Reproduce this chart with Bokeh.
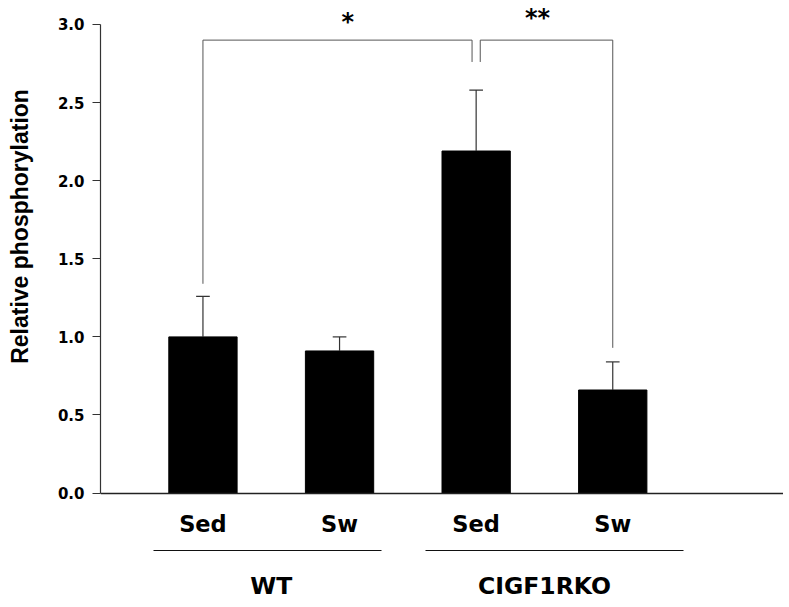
import math
from bokeh.plotting import figure
from bokeh.layouts import row
from bokeh.models import Range1d, LinearAxis, FixedTicker
from bokeh.core.properties import value
from bokeh.embed import file_html
from bokeh.resources import INLINE

# ---- data ----
positions = [1, 2, 3, 4]
conditions = ["Sed", "Sw", "Sed", "Sw"]
means = [1.00, 0.91, 2.19, 0.66]
sem = [0.26, 0.09, 0.39, 0.18]

groups = ["WT", "CIGF1RKO"]
group_centers = [1.5, 3.5]
group_starts = [0.64, 2.63]
group_ends = [2.31, 4.52]
group_line_level = -0.367

y_ticks = [0.0, 0.5, 1.0, 1.5, 2.0, 2.5, 3.0]
y_tick_labels = ["0.0", "0.5", "1.0", "1.5", "2.0", "2.5", "3.0"]
y_title = ["Relative phosphorylation"]
y_title_center = [1.707]

sig_labels = ["*", "**"]
sig_label_x = [2.06, 3.45]
sig_label_y = [3.015, 3.04]
bracket_level = 2.9
bracket_left_x = [1.0, 3.03]
bracket_right_x = [2.97, 4.0]
bracket_left_bottom = [1.34, 2.76]
bracket_right_bottom = [2.76, 0.93]

BAR_W = 0.5
CAP_W = 0.1
HFONT = "DejaVu Sans"
Y0, Y1 = -0.7196, 3.1536
H = 605
TITLE_W = 40

# ---- narrow strip holding the y-axis title ----
t = figure(width=TITLE_W, height=H, x_range=Range1d(0, TITLE_W),
           y_range=Range1d(Y0, Y1), x_axis_location=None, y_axis_location=None,
           toolbar_location=None, output_backend="svg",
           min_border_left=0, min_border_right=0,
           min_border_top=0, min_border_bottom=0)
t.outline_line_color = None
t.xgrid.visible = False
t.ygrid.visible = False
t.text(x=[19.0], y=y_title_center, text=y_title, angle=math.pi / 2,
       text_font=value("Liberation Sans"), text_font_style="bold",
       text_font_size="23px", text_align="center",
       text_baseline="alphabetic", text_color="black")

# ---- main chart ----
p = figure(width=783 - TITLE_W, height=H,
           x_range=Range1d(0.25, 5.25), y_range=Range1d(Y0, Y1),
           x_axis_location=None, y_axis_location=None,
           toolbar_location=None, output_backend="svg",
           min_border_left=100 - TITLE_W, min_border_right=0,
           min_border_top=0, min_border_bottom=0)
p.outline_line_color = None
p.xgrid.visible = False
p.ygrid.visible = False
p.background_fill_color = "white"
p.border_fill_color = "white"

# bars
p.vbar(x=positions, top=means, bottom=0, width=BAR_W,
       fill_color="black", line_color="black")

# one-sided error bars
err_top = [m + s for m, s in zip(means, sem)]
p.segment(x0=positions, y0=means, x1=positions, y1=err_top,
          line_color="#333333", line_width=1.2)
p.segment(x0=[x - CAP_W / 2 for x in positions], y0=err_top,
          x1=[x + CAP_W / 2 for x in positions], y1=err_top,
          line_color="#333333", line_width=1.2)

# significance brackets
bx = [[l, l, r, r] for l, r in zip(bracket_left_x, bracket_right_x)]
by = [[lb, bracket_level, bracket_level, rb]
      for lb, rb in zip(bracket_left_bottom, bracket_right_bottom)]
p.multi_line(xs=bx, ys=by, line_color="#555555", line_width=1)
p.text(x=sig_label_x, y=sig_label_y, text=sig_labels,
       text_font=value(HFONT), text_font_style="bold",
       text_font_size="24px", text_align="center",
       text_baseline="alphabetic", text_color="black")

# y axis
yaxis = LinearAxis(bounds=(0, 3), ticker=FixedTicker(ticks=y_ticks),
                   major_label_overrides={tk: l for tk, l in zip(y_ticks, y_tick_labels)})
yaxis.major_label_text_font = HFONT
yaxis.major_label_text_font_style = "bold"
yaxis.major_label_text_font_size = "15px"
yaxis.major_label_text_color = "black"
yaxis.major_label_standoff = 8
yaxis.major_tick_out = 8
yaxis.major_tick_in = 0
yaxis.minor_tick_out = 0
yaxis.minor_tick_in = 0
yaxis.axis_line_color = "#333333"
yaxis.major_tick_line_color = "#333333"
yaxis.axis_line_width = 1.2
p.add_layout(yaxis, "left")

# x axis at y=0 with condition labels
xaxis = LinearAxis(fixed_location=0, bounds=(0.25, 5.25),
                   ticker=FixedTicker(ticks=positions),
                   major_label_overrides={x: c for x, c in zip(positions, conditions)})
xaxis.major_tick_out = 0
xaxis.major_tick_in = 0
xaxis.minor_tick_out = 0
xaxis.minor_tick_in = 0
xaxis.axis_line_color = "#222222"
xaxis.axis_line_width = 1.5
xaxis.major_label_text_font = HFONT
xaxis.major_label_text_font_style = "bold"
xaxis.major_label_text_font_size = "22.5px"
xaxis.major_label_text_color = "black"
xaxis.major_label_standoff = 18
p.add_layout(xaxis, "below")

# group axes (line under conditions + group name)
for g, c, s, e in zip(groups, group_centers, group_starts, group_ends):
    gax = LinearAxis(fixed_location=group_line_level, bounds=(s, e),
                     ticker=FixedTicker(ticks=[c]),
                     major_label_overrides={c: g})
    gax.major_tick_out = 0
    gax.major_tick_in = 0
    gax.minor_tick_out = 0
    gax.minor_tick_in = 0
    gax.axis_line_color = "#111111"
    gax.axis_line_width = 1.2
    gax.major_label_text_font = HFONT
    gax.major_label_text_font_style = "bold"
    gax.major_label_text_font_size = "23.5px"
    gax.major_label_text_color = "black"
    gax.major_label_standoff = 22
    p.add_layout(gax, "below")

layout = row(t, p, spacing=0)
open("out.html", "w").write(file_html(layout, INLINE))
